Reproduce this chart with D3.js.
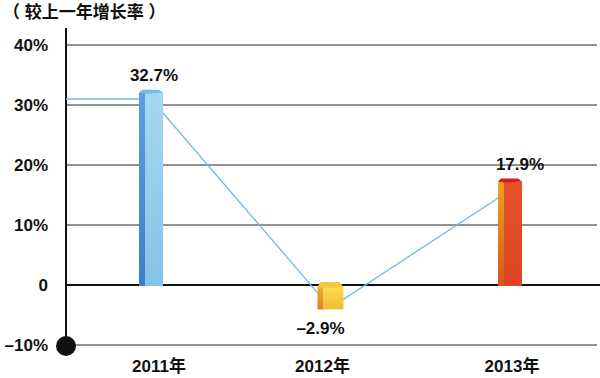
<!DOCTYPE html>
<html>
<head>
<meta charset="utf-8">
<script src="https://cdn.jsdelivr.net/npm/d3@7"></script>
<style>
  html, body { margin: 0; padding: 0; background: #fff; }
  svg { display: block; }
  text { font-family: "Liberation Sans", Arial, "Noto Sans CJK SC", sans-serif; font-weight: bold; }
</style>
</head>
<body>
<svg id="chart" width="600" height="378"></svg>
<script>
// data
const years = ["2011年", "2012年", "2013年"];
const growth = [32.7, -2.9, 17.9];
const growthLabels = ["32.7%", "\u20132.9%", "17.9%"];
const yTicks = [-10, 0, 10, 20, 30, 40];
const yTickLabels = ["\u201310%", "0", "10%", "20%", "30%", "40%"];
// connecting line: value where it leaves the axis, then one per year
const lineStart = 31;
const lineValues = [31, -3.8, 15.8];
const title = "（ 较上一年增长率 ）";

const width = 600, height = 378;
const margin = {top: 45, right: 2, bottom: 33, left: 66};

const svg = d3.select("#chart");

const y = d3.scaleLinear()
    .domain([-10, 40])
    .range([345, 45]);

const x = d3.scalePoint()
    .domain(years)
    .range([151, 510]);

// colours per bar: front, side (top/bottom), cap
const palette = [
    {front: ["#a8d6f0", "#86c3e6"], side: ["#5aa0e0", "#3b7fcc"], cap: "#7ab8ea"},
    {front: ["#f9dc52", "#f1bd32"], side: ["#eeae2a", "#e07f18"], cap: "#f5c83c"},
    {front: ["#e4522a", "#dc4520"], side: ["#e9a41f", "#d55a1a"], cap: "#d51c1c"}
];

const defs = svg.append("defs");
palette.forEach((p, i) => {
    const gf = defs.append("linearGradient").attr("id", "front" + i)
        .attr("x1", 0).attr("y1", 0).attr("x2", 0).attr("y2", 1);
    gf.append("stop").attr("offset", "0%").attr("stop-color", p.front[0]);
    gf.append("stop").attr("offset", "100%").attr("stop-color", p.front[1]);
    const gs = defs.append("linearGradient").attr("id", "side" + i)
        .attr("x1", 0).attr("y1", 0).attr("x2", 0).attr("y2", 1);
    gs.append("stop").attr("offset", "0%").attr("stop-color", p.side[0]);
    gs.append("stop").attr("offset", "100%").attr("stop-color", p.side[1]);
});

// title
svg.append("text")
    .attr("x", 3)
    .attr("y", 18)
    .attr("font-size", 17)
    .attr("font-family", "'Noto Sans CJK SC', sans-serif")
    .attr("fill", "#111")
    .text(title);

// gridlines
svg.append("g")
    .selectAll("line")
    .data(yTicks)
    .join("line")
    .attr("x1", margin.left)
    .attr("x2", d => d === 0 ? width : 597)
    .attr("y1", d => y(d))
    .attr("y2", d => y(d))
    .attr("stroke", d => d === 0 ? "#111" : "#6e6e6e")
    .attr("stroke-width", d => d === 0 ? 1.8 : 1.5);

// y tick labels
svg.append("g")
    .attr("font-size", 17)
    .attr("text-anchor", "end")
    .selectAll("text")
    .data(yTicks)
    .join("text")
    .attr("x", 48)
    .attr("y", d => y(d))
    .attr("dy", "0.36em")
    .attr("fill", "#111")
    .text((d, i) => yTickLabels[i]);

// y axis line
svg.append("line")
    .attr("x1", margin.left).attr("x2", margin.left)
    .attr("y1", 28).attr("y2", y(-10))
    .attr("stroke", "#111")
    .attr("stroke-width", 2);

// connecting line (behind bars)
const linePts = [[margin.left, y(lineStart)]]
    .concat(years.map((d, i) => [x(d), y(lineValues[i])]));
linePts.splice(1, 0, [x(years[0]) - 12, y(lineStart)]);
svg.append("path")
    .attr("d", d3.line()(linePts))
    .attr("fill", "none")
    .attr("stroke", "#72bbdf")
    .attr("stroke-width", 1.3);

// 3d bars
const bw = 24, sw = 6;
const bars = svg.append("g")
    .selectAll("g")
    .data(years.map((d, i) => ({year: d, v: growth[i], i})))
    .join("g");

bars.each(function (d) {
    const g = d3.select(this);
    const cx = x(d.year);
    const w = d.v < 0 ? bw + 2 : bw;
    const x0 = cx - w / 2, x1 = cx + w / 2;
    const top = d.v >= 0 ? y(d.v) + 4 : y(0) + 2;
    const bot = d.v >= 0 ? y(0) + 1 : y(d.v) + 7;
    const capH = d.v >= 0 ? 3 : 5;
    g.append("rect")
        .attr("x", x0).attr("y", top)
        .attr("width", sw).attr("height", bot - top)
        .attr("fill", `url(#side${d.i})`);
    g.append("rect")
        .attr("x", x0 + sw).attr("y", top)
        .attr("width", w - sw).attr("height", bot - top)
        .attr("fill", `url(#front${d.i})`);
    g.append("polygon")
        .attr("points", [[x0, top], [x0 + sw, top + 1], [x1, top], [x1 - 4, top - capH], [x0 + 3, top - capH]].join(" "))
        .attr("fill", palette[d.i].cap);
});

// value labels
svg.append("g")
    .attr("font-size", 17)
    .attr("text-anchor", "middle")
    .selectAll("text")
    .data(growth)
    .join("text")
    .attr("x", (d, i) => x(years[i]) + [3, -10, 10][i])
    .attr("y", d => d >= 0 ? y(d) - 8 : y(d) + 32)
    .attr("fill", "#111")
    .text((d, i) => growthLabels[i]);

// year labels
svg.append("g")
    .attr("font-size", 17)
    .attr("text-anchor", "middle")
    .selectAll("text")
    .data(years)
    .join("text")
    .attr("x", (d, i) => x(d) + [8, -8, 2][i])
    .attr("y", 372)
    .attr("fill", "#111")
    .text(d => d);

// origin dot
svg.append("circle")
    .attr("cx", margin.left)
    .attr("cy", y(-10) + 1)
    .attr("r", 10)
    .attr("fill", "#111");
</script>
</body>
</html>
